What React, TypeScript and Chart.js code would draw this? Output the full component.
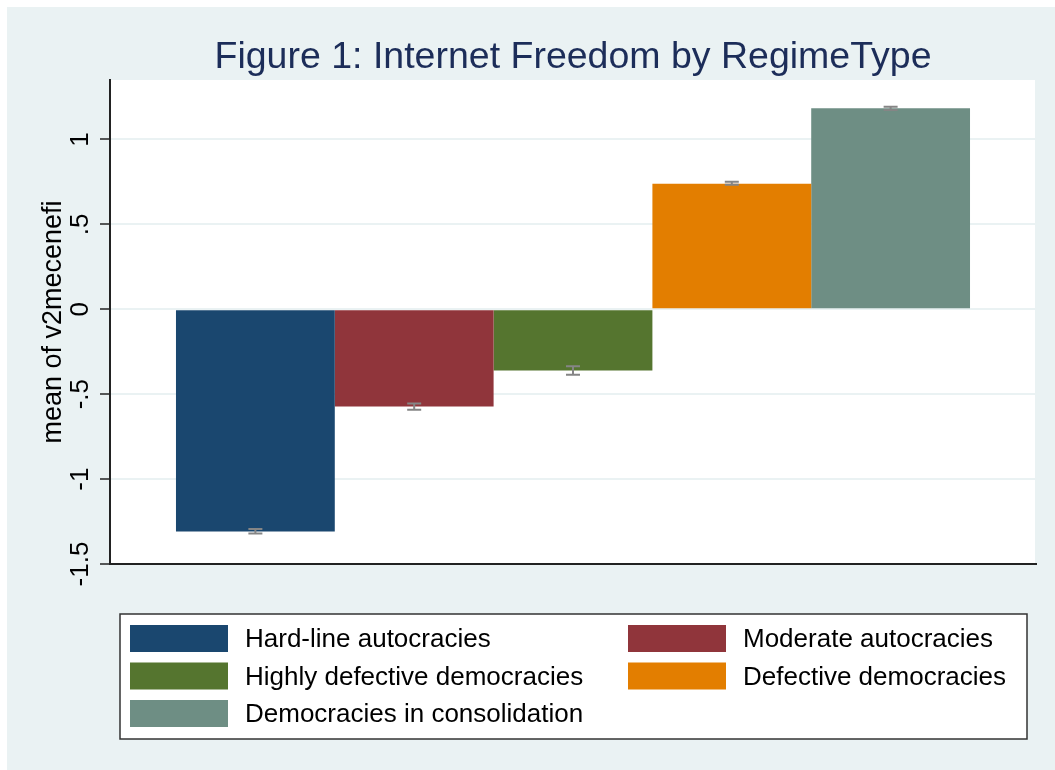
import React, { useEffect, useRef } from 'react';
import { Chart, registerables } from 'chart.js';

Chart.register(...registerables);

const groups = [
  'Hard-line autocracies',
  'Moderate autocracies',
  'Highly defective democracies',
  'Defective democracies',
  'Democracies in consolidation',
];
const means = [-1.308, -0.573, -0.361, 0.739, 1.184];
const ciLow = [-1.32, -0.591, -0.386, 0.733, 1.174];
const ciHigh = [-1.294, -0.555, -0.335, 0.751, 1.192];
const colors = ['#1A476F', '#90353B', '#55752F', '#E37E00', '#6E8E84'];
const tickValues = [-1.5, -1, -0.5, 0, 0.5, 1];
const tickLabels = ['-1.5', '-1', '-.5', '0', '.5', '1'];
const titleText = 'Figure 1: Internet Freedom by RegimeType';
const yTitle = 'mean of v2mecenefi';

const FONT = "'Liberation Sans', Arial, Helvetica, sans-serif";
const BG = '#EAF2F3';

const backgroundPlugin = {
  id: 'bgPlugin',
  beforeDraw(chart: any) {
    const { ctx, width, height, chartArea } = chart;
    ctx.save();
    ctx.fillStyle = '#ffffff';
    ctx.fillRect(0, 0, width, height);
    ctx.fillStyle = BG;
    ctx.fillRect(7, 7, width - 7, height - 7);
    ctx.fillStyle = '#ffffff';
    ctx.fillRect(chartArea.left, chartArea.top, chartArea.right - chartArea.left, chartArea.bottom - chartArea.top);
    ctx.strokeStyle = BG;
    ctx.lineWidth = 2;
    ctx.beginPath();
    ctx.moveTo(chartArea.right, chartArea.top);
    ctx.lineTo(chartArea.right, chartArea.bottom);
    ctx.stroke();
    ctx.restore();
  },
};

const errorBarPlugin = {
  id: 'errorBars',
  afterDatasetsDraw(chart: any) {
    const { ctx } = chart;
    const yScale = chart.scales.y;
    ctx.save();
    ctx.strokeStyle = '#858585';
    ctx.lineWidth = 2;
    for (let i = 0; i < groups.length; i++) {
      const meta = chart.getDatasetMeta(i);
      const bar = meta.data[0];
      if (!bar) continue;
      const x = bar.x;
      const yl = yScale.getPixelForValue(ciLow[i]);
      const yh = yScale.getPixelForValue(ciHigh[i]);
      const half = 7;
      ctx.beginPath();
      ctx.moveTo(x, yl);
      ctx.lineTo(x, yh);
      ctx.moveTo(x - half, yl);
      ctx.lineTo(x + half, yl);
      ctx.moveTo(x - half, yh);
      ctx.lineTo(x + half, yh);
      ctx.stroke();
    }
    ctx.restore();
  },
};

const legendPlugin = {
  id: 'boxLegend',
  afterDraw(chart: any) {
    const { ctx } = chart;
    const box = { x: 120, y: 614, w: 907, h: 125 };
    ctx.save();
    ctx.fillStyle = '#ffffff';
    ctx.fillRect(box.x, box.y, box.w, box.h);
    ctx.strokeStyle = '#333333';
    ctx.lineWidth = 1.5;
    ctx.strokeRect(box.x, box.y, box.w, box.h);
    const colX = [130, 628];
    const rowTop = [625, 662.5, 700];
    const swW = 98;
    const swH = 27;
    ctx.font = `26px ${FONT}`;
    ctx.textBaseline = 'middle';
    ctx.textAlign = 'left';
    chart.data.datasets.forEach((ds: any, i: number) => {
      const col = i % 2;
      const row = Math.floor(i / 2);
      const sx = colX[col];
      const sy = rowTop[row];
      ctx.fillStyle = ds.backgroundColor;
      ctx.fillRect(sx, sy, swW, swH);
      ctx.fillStyle = '#000000';
      ctx.fillText(ds.label, sx + 115, sy + swH / 2 + 1.5);
    });
    ctx.restore();
  },
};

export default function App() {
  const canvasRef = useRef<HTMLCanvasElement | null>(null);

  useEffect(() => {
    document.body.style.margin = '0';
    const canvas = canvasRef.current;
    if (!canvas) return;
    const chart = new Chart(canvas, {
      type: 'bar',
      data: {
        labels: [''],
        datasets: groups.map((g, i) => ({
          label: g,
          data: [means[i]],
          backgroundColor: colors[i],
          borderWidth: 0,
          categoryPercentage: 0.8575,
          barPercentage: 1,
        })),
      },
      options: {
        responsive: false,
        animation: false,
        layout: { padding: { left: 0, top: 0, right: 19, bottom: 0 } },
        plugins: {
          legend: { display: false },
          tooltip: { enabled: false },
          title: {
            display: true,
            text: titleText,
            fullSize: false,
            color: '#1c2d59',
            font: { family: FONT, size: 37.5, weight: 'normal' },
            padding: { top: 35, bottom: 0 },
          },
        },
        scales: {
          x: {
            type: 'category',
            ticks: { display: false },
            grid: { display: false },
            border: { display: true, color: '#222222', width: 2 },
            afterFit: (s: any) => {
              s.height = 206;
            },
          },
          y: {
            min: -1.5,
            max: 1.35,
            afterBuildTicks: (s: any) => {
              s.ticks = tickValues.map((v) => ({ value: v }));
            },
            ticks: {
              callback: (_v: any, index: number) => tickLabels[index] ?? '',
              font: { family: FONT, size: 26 },
              color: '#000000',
              minRotation: 90,
              maxRotation: 90,
              crossAlign: 'center',
              padding: -3,
            },
            grid: {
              color: BG,
              lineWidth: 2,
              tickColor: '#222222',
              tickWidth: 1.5,
              tickLength: 10,
            },
            border: { display: true, color: '#222222', width: 2 },
            title: {
              display: true,
              text: yTitle,
              color: '#000000',
              font: { family: FONT, size: 27 },
              padding: { top: 37, bottom: 0 },
            },
            afterFit: (s: any) => {
              s.width = 110;
            },
          },
        },
      },
      plugins: [backgroundPlugin, errorBarPlugin, legendPlugin],
    } as any);
    return () => chart.destroy();
  }, []);

  return (
    <canvas
      ref={canvasRef}
      width={1055}
      height={770}
      style={{ display: 'block', width: '1055px', height: '770px' }}
    />
  );
}
